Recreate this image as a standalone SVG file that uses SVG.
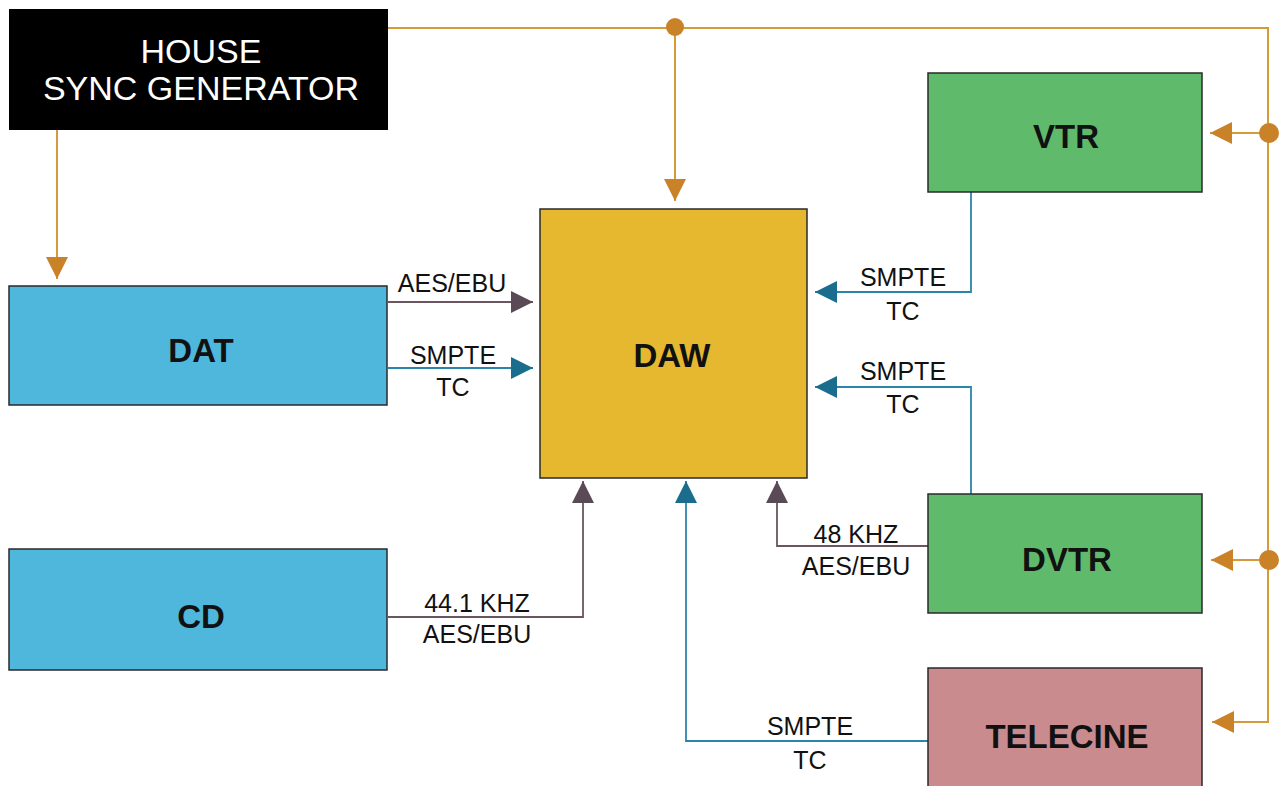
<svg xmlns="http://www.w3.org/2000/svg" width="1286" height="786" viewBox="0 0 1286 786">
<defs>
<style>
.box{stroke:#2a2a2a;stroke-width:1.5}
.lbl{font-family:"Liberation Sans",Arial,sans-serif;font-size:33px;fill:#111;text-anchor:middle;font-weight:bold}
.cl{font-family:"Liberation Sans",Arial,sans-serif;font-size:25px;fill:#111;text-anchor:middle}
.sync{stroke:#d69a3a;stroke-width:2;fill:none}
.aud{stroke:#6a5560;stroke-width:1.8;fill:none}
.tc{stroke:#2a86a8;stroke-width:1.8;fill:none}
</style>
<marker id="aS" markerWidth="24" markerHeight="22" refX="22" refY="11" orient="auto" markerUnits="userSpaceOnUse"><path d="M0,0 L22,11 L0,22 Z" fill="#c98228"/></marker>
<marker id="aA" markerWidth="24" markerHeight="22" refX="22" refY="11" orient="auto" markerUnits="userSpaceOnUse"><path d="M0,0 L22,11 L0,22 Z" fill="#5a4a55"/></marker>
<marker id="aT" markerWidth="24" markerHeight="22" refX="22" refY="11" orient="auto" markerUnits="userSpaceOnUse"><path d="M0,0 L22,11 L0,22 Z" fill="#1b6d8e"/></marker>
</defs>
<rect width="1286" height="786" fill="#ffffff"/>
<g id="connectors">
<path class="sync" d="M388,28 H1268 V722 H1212" marker-end="url(#aS)"/>
<path class="sync" d="M675,28 V201" marker-end="url(#aS)"/>
<path class="sync" d="M57,130 V279" marker-end="url(#aS)"/>
<path class="sync" d="M1268,133 H1210" marker-end="url(#aS)"/>
<path class="sync" d="M1268,560 H1211" marker-end="url(#aS)"/>
<circle cx="675" cy="27" r="9" fill="#c98228"/>
<circle cx="1269" cy="133" r="10" fill="#c98228"/>
<circle cx="1269" cy="560" r="10" fill="#c98228"/>
<path class="aud" d="M388,302 H533" marker-end="url(#aA)"/>
<path class="tc" d="M388,368 H533" marker-end="url(#aT)"/>
<path class="tc" d="M971,192 V292 H815" marker-end="url(#aT)"/>
<path class="tc" d="M971,494 V387 H815" marker-end="url(#aT)"/>
<path class="aud" d="M928,546 H777 V481" marker-end="url(#aA)"/>
<path class="aud" d="M388,617 H583 V481" marker-end="url(#aA)"/>
<path class="tc" d="M928,741 H686 V481" marker-end="url(#aT)"/>
<text class="cl" x="452" y="292">AES/EBU</text>
<text class="cl" x="453" y="364">SMPTE</text>
<text class="cl" x="453" y="396">TC</text>
<text class="cl" x="903" y="286">SMPTE</text>
<text class="cl" x="903" y="320">TC</text>
<text class="cl" x="903" y="380">SMPTE</text>
<text class="cl" x="903" y="413">TC</text>
<text class="cl" x="856" y="543">48 KHZ</text>
<text class="cl" x="856" y="575">AES/EBU</text>
<text class="cl" x="477" y="612">44.1 KHZ</text>
<text class="cl" x="477" y="643">AES/EBU</text>
<text class="cl" x="810" y="735">SMPTE</text>
<text class="cl" x="810" y="769">TC</text>
</g>
<g id="house-sync">
<rect x="9" y="9" width="379" height="121" fill="#000000"/>
<text class="lbl" x="201" y="63" style="fill:#fff;font-size:34px;font-weight:400">HOUSE</text>
<text class="lbl" x="201" y="100" style="fill:#fff;font-size:34px;font-weight:400">SYNC GENERATOR</text>
</g>
<g id="dat">
<rect class="box" x="9" y="286" width="378" height="119" fill="#4fb6dc"/>
<text class="lbl" x="201" y="362">DAT</text>
</g>
<g id="cd">
<rect class="box" x="9" y="549" width="378" height="121" fill="#4fb6dc"/>
<text class="lbl" x="201" y="628">CD</text>
</g>
<g id="daw">
<rect class="box" x="540" y="209" width="267" height="269" fill="#e5b830"/>
<text class="lbl" x="672" y="367">DAW</text>
</g>
<g id="vtr">
<rect class="box" x="928" y="73" width="274" height="119" fill="#5fba6c"/>
<text class="lbl" x="1066" y="148">VTR</text>
</g>
<g id="dvtr">
<rect class="box" x="928" y="494" width="274" height="119" fill="#5fba6c"/>
<text class="lbl" x="1067" y="571">DVTR</text>
</g>
<g id="telecine">
<rect class="box" x="928" y="668" width="274" height="125" fill="#c98b8e"/>
<text class="lbl" x="1067" y="748">TELECINE</text>
</g>
</svg>
